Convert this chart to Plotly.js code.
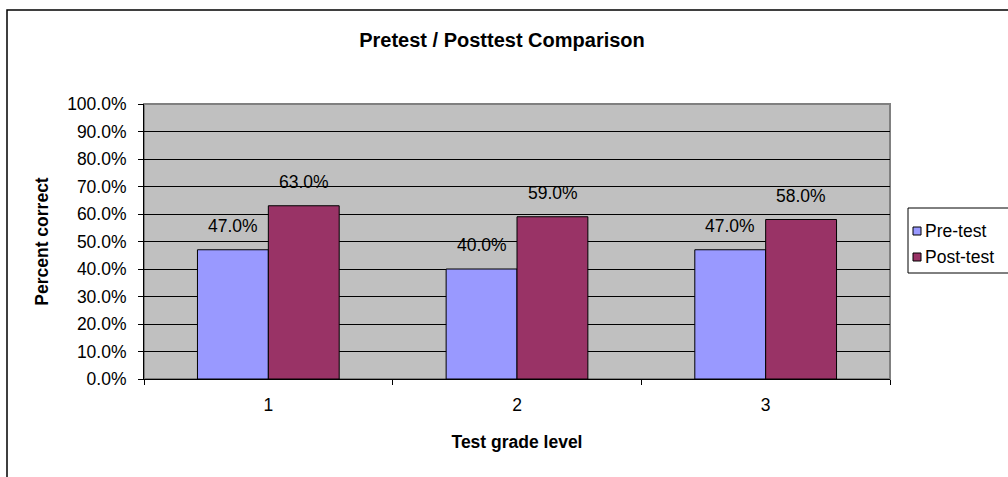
<!DOCTYPE html>
<html>
<head>
<meta charset="utf-8">
<script src="https://cdn.plot.ly/plotly-3.0.1.min.js"></script>
<style>html,body{margin:0;padding:0;background:#fff;}#chart{width:1008px;height:477px;}</style>
</head>
<body>
<div id="chart"></div>
<script>
const categories = ["1", "2", "3"];
const seriesNames = ["Pre-test", "Post-test"];
const preTest = [0.47, 0.40, 0.47];
const postTest = [0.63, 0.59, 0.58];
const yTickVals = [0, 0.1, 0.2, 0.3, 0.4, 0.5, 0.6, 0.7, 0.8, 0.9, 1.0];
const yTickText = ["0.0%", "10.0%", "20.0%", "30.0%", "40.0%", "50.0%", "60.0%", "70.0%", "80.0%", "90.0%", "100.0%"];
const colors = ["#9999FF", "#993366"];

const FONT = "Liberation Sans, Arial, sans-serif";
const FS = 17.5;
const allSeries = [preTest, postTest];

const traces = allSeries.map((vals, i) => ({
  type: "bar",
  name: seriesNames[i],
  x: categories,
  y: vals,
  marker: {color: colors[i], line: {color: "#000", width: 1}},
  showlegend: false,
  hoverinfo: "skip"
}));

const annotations = [];
allSeries.forEach((vals, i) => {
  vals.forEach((v, j) => {
    annotations.push({
      xref: "x", yref: "y", x: j, y: v,
      xshift: i === 0 ? -35.5 : 35.5, yshift: 24,
      yanchor: "middle", xanchor: "center",
      text: (v * 100).toFixed(1) + "%", showarrow: false,
      font: {family: FONT, size: FS, color: "#000"}
    });
  });
});

const shapes = [
  {type: "rect", xref: "paper", yref: "paper", x0: (7 - 144) / 746, x1: 2, y0: -2, y1: (379 - 10) / 275,
   line: {color: "#000", width: 1.5}, fillcolor: "rgba(0,0,0,0)", layer: "below"},
  {type: "rect", xref: "paper", yref: "paper", x0: 0, x1: 1, y0: 0, y1: 1,
   line: {color: "#808080", width: 2}, fillcolor: "rgba(0,0,0,0)", layer: "below"},
  {type: "rect", xref: "paper", yref: "paper", x0: (908 - 144) / 746, x1: 1.2, y0: (379 - 273) / 275, y1: (379 - 208) / 275,
   line: {color: "#000", width: 1}, fillcolor: "#fff"}
];
const legendY = [231, 257];
seriesNames.forEach((n, i) => {
  const cy = legendY[i];
  shapes.push({type: "rect", xref: "paper", yref: "paper",
    x0: (913 - 144) / 746, x1: (921 - 144) / 746,
    y0: (379 - (cy + 4)) / 275, y1: (379 - (cy - 4)) / 275,
    line: {color: "#000", width: 1}, fillcolor: colors[i]});
  annotations.push({xref: "paper", yref: "paper", x: (923 - 144) / 746, y: (379 - cy) / 275,
    xanchor: "left", yanchor: "middle", text: n, showarrow: false,
    font: {family: FONT, size: FS, color: "#000"}});
});

const layout = {
  width: 1008, height: 477,
  margin: {l: 144, r: 118, t: 104, b: 98, pad: 0},
  paper_bgcolor: "#fff",
  plot_bgcolor: "#C0C0C0",
  font: {family: FONT, size: FS, color: "#000"},
  title: {text: "<b>Pretest / Posttest Comparison</b>", xref: "container", x: 0.498, xanchor: "center",
          yref: "container", y: 1 - 40 / 477, yanchor: "middle", font: {family: FONT, size: 20, color: "#000"}},
  barmode: "group",
  bargap: 0.43,
  bargroupgap: 0,
  xaxis: {
    type: "category", range: [-0.5, 2.5], tickson: "boundaries", ticks: "outside", ticklen: 5, tickcolor: "#000",
    showline: true, linecolor: "#000", linewidth: 1, showgrid: false, zeroline: false,
    ticklabelstandoff: 10, automargin: false,
    tickfont: {family: FONT, size: FS},
    title: {text: "<b>Test grade level</b>", standoff: 21, font: {family: FONT, size: FS}}
  },
  yaxis: {
    range: [0, 1], tickvals: yTickVals, ticktext: yTickText,
    ticks: "outside", ticklen: 5, tickcolor: "#000",
    showline: true, linecolor: "#000", linewidth: 1,
    showgrid: true, gridcolor: "#000", gridwidth: 1, zeroline: false,
    ticklabelstandoff: 8, automargin: false,
    tickfont: {family: FONT, size: FS},
    title: {text: "<b>Percent correct</b>", standoff: 14, font: {family: FONT, size: FS}}
  },
  shapes: shapes,
  annotations: annotations
};

Plotly.newPlot("chart", traces, layout, {displayModeBar: false, staticPlot: true});
</script>
</body>
</html>
